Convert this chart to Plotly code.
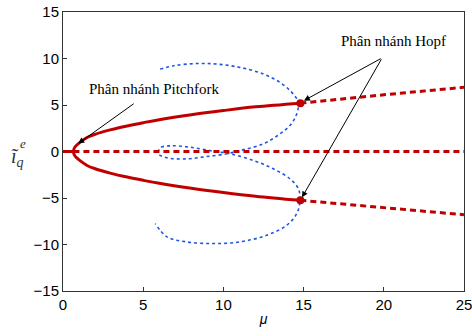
import plotly.graph_objects as go

# Stable upper / lower branches (solid)
mu_stab = [0.65, 0.7, 0.8, 1.0, 1.5, 2.0, 3.0, 4.0, 5.0, 6.0, 8.0, 10.0, 12.0, 14.8]
iq_stab_up = [0.0, 0.35, 0.6, 0.9, 1.5, 1.85, 2.35, 2.75, 3.1, 3.42, 3.95, 4.4, 4.8, 5.2]
iq_stab_lo = [0.0, -0.35, -0.6, -0.9, -1.5, -1.85, -2.35, -2.75, -3.1, -3.42, -3.95, -4.4, -4.8, -5.25]
# Unstable branches (dashed)
mu_unst = [14.8, 17.0, 20.0, 22.5, 25.0]
iq_unst_up = [5.2, 5.6, 6.1, 6.5, 6.9]
iq_unst_lo = [-5.25, -5.6, -6.05, -6.45, -6.8]
# Trivial equilibrium
mu_triv_s = [0.0, 0.65]
mu_triv_u = [0.65, 25.0]
iq_triv = [0.0, 0.0]
# Hopf points
mu_hopf = [14.8, 14.8]
iq_hopf = [5.2, -5.25]
# Periodic orbit branch (blue dotted)
mu_orb = [6.06, 6.89, 8.34, 9.59, 11.04, 12.49, 13.53, 14.26, 14.67, 14.57, 14.2, 13.53, 12.49,
          11.04, 10.21, 8.97, 7.72, 6.48, 5.95, 6.06, 6.68, 7.93, 9.38, 10.42, 11.87, 13.11,
          14.15, 14.67, 14.78, 14.57, 13.95, 12.7, 11.04, 9.38, 7.72, 6.48, 5.75]
iq_orb = [8.86, 9.22, 9.46, 9.40, 9.04, 8.33, 7.43, 6.36, 5.28, 4.04, 2.9, 1.9, 0.82,
          0.1, -0.25, -0.54, -0.79, -0.68, -0.25, 0.39, 0.61, 0.46, 0.03, -0.25, -0.96, -1.86,
          -2.93, -4.0, -5.25, -6.68, -7.93, -9.0, -9.72, -9.9, -9.72, -9.18, -7.75]

RED = "#c00000"
BLUE = "#1f55e0"

fig = go.Figure()
fig.add_trace(go.Scatter(x=mu_orb, y=iq_orb, mode="lines",
                         line=dict(color=BLUE, width=1.6, dash="dot", shape="spline")))
fig.add_trace(go.Scatter(x=mu_triv_s, y=iq_triv, mode="lines", line=dict(color=RED, width=3)))
fig.add_trace(go.Scatter(x=mu_triv_u, y=iq_triv, mode="lines", line=dict(color=RED, width=3, dash="6px,4px")))
fig.add_trace(go.Scatter(x=mu_stab, y=iq_stab_up, mode="lines", line=dict(color=RED, width=3, shape="spline")))
fig.add_trace(go.Scatter(x=mu_stab, y=iq_stab_lo, mode="lines", line=dict(color=RED, width=3, shape="spline")))
fig.add_trace(go.Scatter(x=mu_unst, y=iq_unst_up, mode="lines", line=dict(color=RED, width=3, dash="6px,4px")))
fig.add_trace(go.Scatter(x=mu_unst, y=iq_unst_lo, mode="lines", line=dict(color=RED, width=3, dash="6px,4px")))
fig.add_trace(go.Scatter(x=mu_hopf, y=iq_hopf, mode="markers", marker=dict(color=RED, size=8)))

serif = "Liberation Serif, Times New Roman, serif"
ann = [
    dict(x=0.95, y=0.86, ax=4.5, ay=5.25, axref="x", ayref="y", text="", showarrow=True,
         arrowhead=2, arrowsize=1.2, arrowwidth=1, arrowcolor="black"),
    dict(x=15.02, y=5.47, ax=19.9, ay=10.07, axref="x", ayref="y", text="", showarrow=True,
         arrowhead=2, arrowsize=1.2, arrowwidth=1, arrowcolor="black"),
    dict(x=14.9, y=-4.93, ax=19.9, ay=10.07, axref="x", ayref="y", text="", showarrow=True,
         arrowhead=2, arrowsize=1.2, arrowwidth=1, arrowcolor="black"),
    dict(x=5.7, y=6.7, text="Phân nhánh Pitchfork", showarrow=False,
         font=dict(family=serif, size=15, color="black")),
    dict(x=20.6, y=11.85, text="Phân nhánh Hopf", showarrow=False,
         font=dict(family=serif, size=15, color="black")),
    dict(x=-0.135, y=0.478, xref="paper", yref="paper", text="<i>ĩ<sub>q</sub></i>", showarrow=False,
         font=dict(family=serif, size=20, color="#333")),
    dict(x=-0.112, y=0.53, xref="paper", yref="paper", text="<i>e</i>", showarrow=False,
         font=dict(family=serif, size=13, color="#333")),
]

fig.update_layout(
    template="none",
    width=472, height=336,
    margin=dict(l=63, r=8, t=12, b=45),
    paper_bgcolor="white", plot_bgcolor="white",
    showlegend=False,
    annotations=ann,
    font=dict(family="Liberation Sans, Arial, sans-serif", size=15, color="black"),
    xaxis=dict(range=[0, 25], tickvals=[0, 5, 10, 15, 20, 25], ticks="inside", ticklen=4,
               tickcolor="#333", automargin=False, ticklabeloverflow="allow",
               showline=True, linecolor="#333", linewidth=1, mirror=True, showgrid=False,
               zeroline=False,
               title=dict(text="<i>μ</i>", font=dict(size=14), standoff=2)),
    yaxis=dict(range=[-15, 15], tickvals=[-15, -10, -5, 0, 5, 10, 15], ticks="inside", ticklen=4,
               tickcolor="#333", automargin=False, ticklabeloverflow="allow",
               showline=True, linecolor="#333", linewidth=1, mirror=True, showgrid=False,
               zeroline=False),
)

fig.write_html("out.html", config={"displayModeBar": False},
               post_script="document.body.style.margin='0';")
